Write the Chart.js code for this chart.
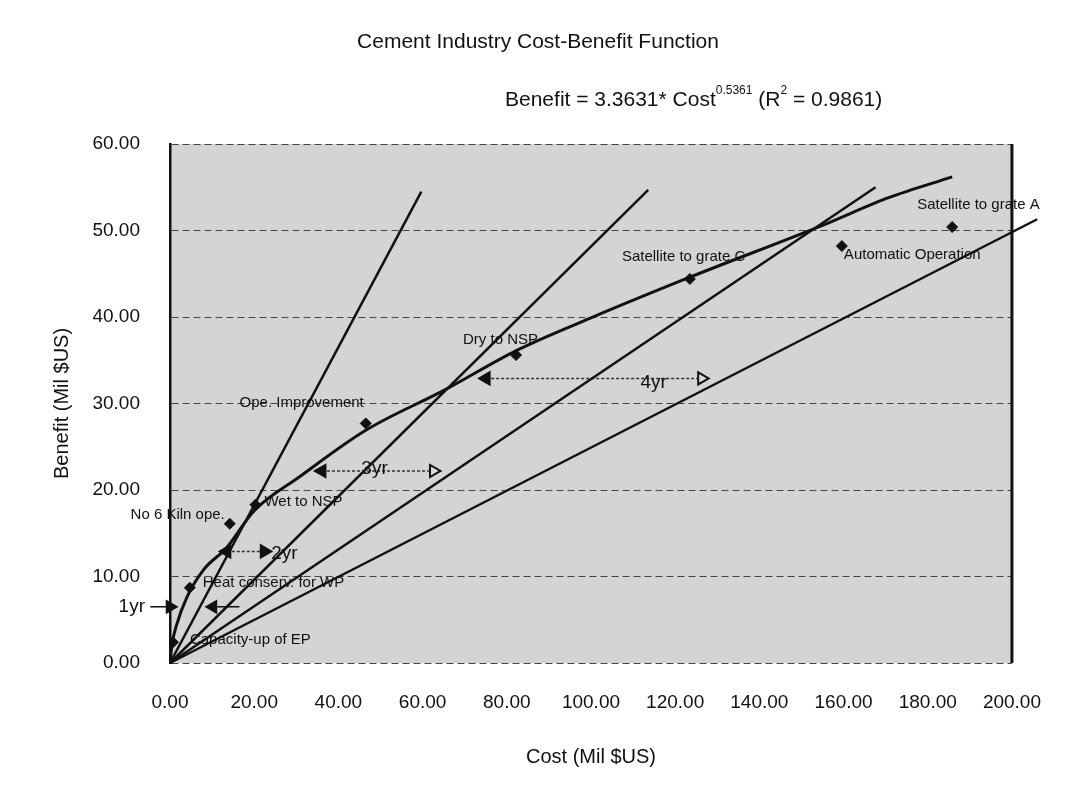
<!DOCTYPE html>
<html>
<head>
<meta charset="utf-8">
<title>Cement Industry Cost-Benefit Function</title>
<script src="https://cdn.jsdelivr.net/npm/chart.js@4.4.1/dist/chart.umd.min.js"></script>
<style>
  html, body { margin: 0; padding: 0; background: #fff; }
  #wrap { width: 1069px; height: 811px; }
</style>
</head>
<body>
<div id="wrap"><canvas id="chart" width="1069" height="811"></canvas></div>
<script>
// values
const CURVE_COST = [0, 0.5, 1.5, 4, 8, 13.4, 20, 30.7, 46.5, 65.4, 82.6, 100, 123.5, 155, 170.7, 185.8];
const CURVE_BENEFIT = [0, 2.2, 4.3, 7.6, 10.8, 13.3, 17.6, 21.5, 26.9, 31.6, 36.2, 39.9, 44.6, 50.6, 53.8, 56.2];

const MEASURES = ['Capacity-up of EP', 'Heat conserv. for WP', 'No 6 Kiln ope.', 'Wet to NSP', 'Ope. Improvement',
  'Dry to NSP', 'Satellite to grate C', 'Automatic Operation', 'Satellite to grate A'];
const MEASURE_COST = [0.7, 4.7, 14.2, 20.3, 46.5, 82.2, 123.5, 159.6, 185.8];
const MEASURE_BENEFIT = [2.4, 8.7, 16.1, 18.3, 27.7, 35.6, 44.4, 48.2, 50.4];

// payback lines from the origin
const PAYBACK_END_COST = [59.7, 113.6, 167.6, 206.0];
const PAYBACK_END_BENEFIT = [54.5, 54.7, 55.0, 51.3];

// horizontal payback arrows: left and right ends
const ARROW_LABELS = ['2yr', '3yr', '4yr'];
const ARROW_FROM = [13.5, 36.1, 75.1];
const ARROW_TO = [22.4, 62.6, 126.3];
const ARROW_BENEFIT = [12.9, 22.2, 32.9];
const ONE_YEAR_BENEFIT = 6.5;

const X_TICKS = [0, 20, 40, 60, 80, 100, 120, 140, 160, 180, 200];
const Y_TICKS = [0, 10, 20, 30, 40, 50, 60];

const INK = '#111';
const PLOT_FILL = '#d4d4d4';
const FONT = 'Liberation Sans, Arial, sans-serif';

// where each measure label sits relative to its diamond (px)
const NOTE_PLACE = [
  { dx: 17, dy: -2, align: 'left' },
  { dx: 13, dy: -5, align: 'left' },
  { dx: -5, dy: -9, align: 'right' },
  { dx: 9, dy: -3, align: 'left' },
  { dx: -2, dy: -21, align: 'right' },
  { dx: 22, dy: -15, align: 'right' },
  { dx: -68, dy: -22, align: 'left' },
  { dx: 2, dy: 9, align: 'left' },
  { dx: -35, dy: -22, align: 'left' },
];
const ARROW_NOTE_PLACE = [
  { dx: 7, dy: 2, align: 'left' },
  { dx: -59, dy: -2, align: 'center' },
  { dx: -48, dy: 4, align: 'center' },
];

const toPoints = (xs, ys) => xs.map((x, i) => ({ x, y: ys[i] }));

const datasets = [];
datasets.push({
  label: 'fit',
  data: toPoints(CURVE_COST, CURVE_BENEFIT),
  showLine: true,
  borderColor: INK,
  borderWidth: 3,
  pointRadius: 0,
  cubicInterpolationMode: 'monotone',
});
PAYBACK_END_COST.forEach((c, i) => {
  datasets.push({
    label: `payback ${i + 1}`,
    data: [{ x: 0, y: 0 }, { x: c, y: PAYBACK_END_BENEFIT[i] }],
    showLine: true,
    borderColor: INK,
    borderWidth: 2.5,
    pointRadius: 0,
    clip: false,
  });
});
datasets.push({
  label: 'measures',
  data: toPoints(MEASURE_COST, MEASURE_BENEFIT),
  pointStyle: 'rectRot',
  pointRadius: 5.5,
  backgroundColor: INK,
  borderColor: INK,
});
ARROW_LABELS.forEach((name, i) => {
  datasets.push({
    label: name,
    data: [{ x: ARROW_FROM[i], y: ARROW_BENEFIT[i] }, { x: ARROW_TO[i], y: ARROW_BENEFIT[i] }],
    showLine: true,
    borderColor: '#333',
    borderWidth: 1.5,
    borderDash: [3, 2],
    pointStyle: 'triangle',
    pointRadius: 7,
    pointRotation: [-90, 90],
    pointBorderWidth: 2,
    pointBorderColor: INK,
    pointBackgroundColor: [INK, i === 0 ? INK : '#ddd'],
  });
});
datasets.push({
  label: '1yr',
  data: [{ x: -4.7, y: ONE_YEAR_BENEFIT }, { x: 0, y: ONE_YEAR_BENEFIT }],
  showLine: true,
  borderColor: INK,
  borderWidth: 1.5,
  pointStyle: 'triangle',
  pointRadius: [0, 7],
  pointRotation: [0, 90],
  backgroundColor: INK,
  clip: false,
});
datasets.push({
  label: '1yr back',
  data: [{ x: 10.2, y: ONE_YEAR_BENEFIT }, { x: 16.5, y: ONE_YEAR_BENEFIT }],
  showLine: true,
  borderColor: INK,
  borderWidth: 1.5,
  pointStyle: 'triangle',
  pointRadius: [7, 0],
  pointRotation: [-90, 0],
  backgroundColor: INK,
});

// gray plot area goes under the grid; thick frame on the right
const plotFrame = {
  id: 'plotFrame',
  beforeDraw(chart) {
    const { ctx, chartArea: a } = chart;
    if (!a) return;
    ctx.save();
    ctx.fillStyle = PLOT_FILL;
    ctx.fillRect(a.left, a.top, a.right - a.left, a.bottom - a.top);
    ctx.restore();
  },
  afterDraw(chart) {
    const { ctx, chartArea: a } = chart;
    ctx.save();
    ctx.strokeStyle = INK;
    ctx.lineWidth = 3;
    ctx.beginPath();
    ctx.moveTo(a.right, a.top);
    ctx.lineTo(a.right, a.bottom);
    ctx.stroke();
    ctx.restore();
  },
};

const notes = {
  id: 'notes',
  afterDatasetsDraw(chart) {
    const { ctx } = chart;
    const x = chart.scales.x;
    const y = chart.scales.y;
    ctx.save();
    ctx.fillStyle = INK;
    ctx.textBaseline = 'middle';

    ctx.font = `15px ${FONT}`;
    MEASURES.forEach((name, i) => {
      const p = NOTE_PLACE[i];
      ctx.textAlign = p.align;
      ctx.fillText(name, x.getPixelForValue(MEASURE_COST[i]) + p.dx, y.getPixelForValue(MEASURE_BENEFIT[i]) + p.dy);
    });

    ctx.font = `19px ${FONT}`;
    ARROW_LABELS.forEach((name, i) => {
      const p = ARROW_NOTE_PLACE[i];
      ctx.textAlign = p.align;
      ctx.fillText(name, x.getPixelForValue(ARROW_TO[i]) + p.dx, y.getPixelForValue(ARROW_BENEFIT[i]) + p.dy);
    });
    ctx.textAlign = 'right';
    ctx.fillText('1yr', x.getPixelForValue(0) - 25, y.getPixelForValue(ONE_YEAR_BENEFIT));

    // headings
    ctx.textAlign = 'center';
    ctx.font = `21px ${FONT}`;
    ctx.fillText('Cement Industry Cost-Benefit Function', 538, 42);

    ctx.textAlign = 'left';
    let cx = 505;
    const cy = 100;
    const put = (t, size, rise) => {
      ctx.font = `${size}px ${FONT}`;
      ctx.fillText(t, cx, cy - rise);
      cx += ctx.measureText(t).width;
    };
    put('Benefit = 3.3631* Cost', 21, 0);
    put('0.5361', 12, 9);
    put(' (R', 21, 0);
    put('2', 12, 9);
    put(' = 0.9861)', 21, 0);
    ctx.restore();
  },
};

new Chart(document.getElementById('chart'), {
  type: 'scatter',
  data: { datasets },
  options: {
    responsive: false,
    animation: false,
    devicePixelRatio: 1,
    layout: { padding: { top: 144, right: 54, left: 0, bottom: 0 } },
    plugins: { legend: { display: false }, tooltip: { enabled: false } },
    scales: {
      x: {
        type: 'linear',
        min: 0,
        max: 200,
        afterBuildTicks: (s) => { s.ticks = X_TICKS.map((v) => ({ value: v })); },
        afterFit: (s) => { s.height = 148; },
        ticks: { callback: (v) => Number(v).toFixed(2), color: INK, font: { family: FONT, size: 19 }, padding: 28, maxRotation: 0 },
        grid: { display: false, drawTicks: false },
        border: { display: false },
        title: { display: true, text: 'Cost (Mil $US)', color: INK, font: { family: FONT, size: 20 }, padding: { bottom: 42 } },
      },
      y: {
        type: 'linear',
        min: 0,
        max: 60,
        afterBuildTicks: (s) => { s.ticks = Y_TICKS.map((v) => ({ value: v })); },
        afterFit: (s) => { s.width = 170; },
        ticks: { callback: (v) => Number(v).toFixed(2), color: INK, font: { family: FONT, size: 19 }, padding: 30 },
        grid: { color: '#444', lineWidth: 1, drawTicks: false },
        border: { display: true, color: INK, width: 2.5, dash: [7, 4] },
        title: { display: true, text: 'Benefit (Mil $US)', color: INK, font: { family: FONT, size: 20 }, padding: { top: 50 } },
      },
    },
  },
  plugins: [plotFrame, notes],
});
</script>
</body>
</html>
